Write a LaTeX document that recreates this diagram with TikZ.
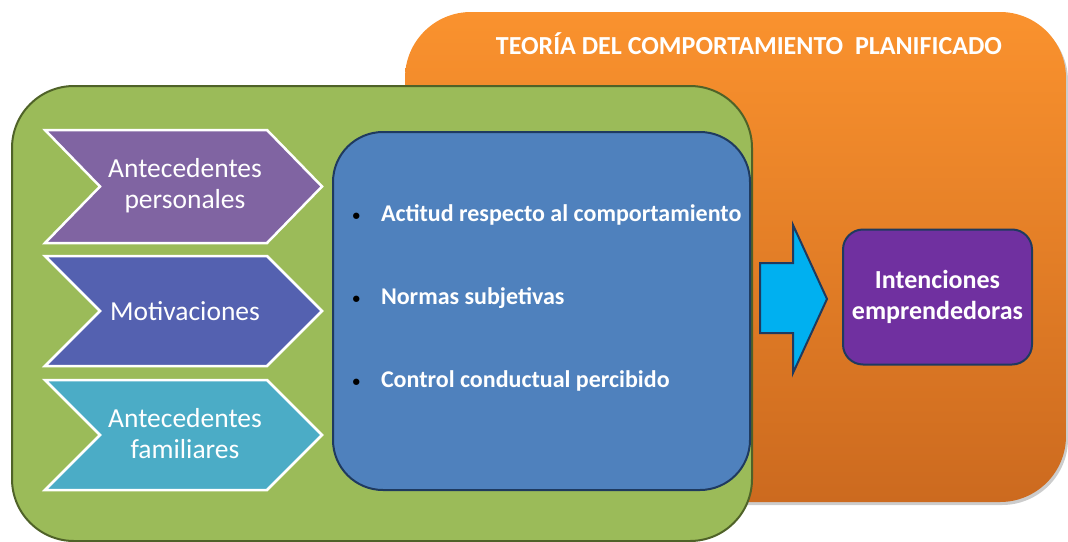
\documentclass[tikz,border=0pt]{standalone}
\usepackage{fontspec}
\setmainfont{Carlito}
\usetikzlibrary{positioning, calc}

\definecolor{orangeT}{HTML}{FA922E}
\definecolor{orangeB}{HTML}{CC6A1F}
\definecolor{greenbg}{HTML}{9BBB59}
\definecolor{greenln}{HTML}{4F6228}
\definecolor{bluebox}{HTML}{4F81BD}
\definecolor{blueln}{HTML}{1F3A5F}
\definecolor{chevA}{HTML}{8064A2}
\definecolor{chevB}{HTML}{5461B0}
\definecolor{chevC}{HTML}{4BACC6}
\definecolor{intent}{HTML}{7030A0}
\definecolor{arrowfill}{HTML}{00B0F0}

\newcommand{\itembullet}{\textcolor{black}{\fontsize{15}{15}\selectfont\raisebox{1pt}{\textbullet}}\hspace{21pt}}

\tikzset{
  chevron/.style={draw=white, line width=2.5pt, line join=miter},
  chevtext/.style={text=white, align=center, font=\fontsize{27.5}{31}\selectfont},
  itemtext/.style={text=white, anchor=west, font=\bfseries\fontsize{24}{28}\selectfont},
}

\begin{document}
\begin{tikzpicture}[x=1pt, y=-1pt]
  \useasboundingbox (0,0) rectangle (1068,541);
  % Orange frame (theory)
  \fill[gray!40, rounded corners=66pt] (407,15) rectangle (1068,505);
  \shade[top color=orangeT, bottom color=orangeB, rounded corners=66pt] (405,12) rectangle (1066,502);
  \node[text=white, font=\bfseries\fontsize{26}{30}\selectfont] (titulo) at (749,44) {TEORÍA DEL COMPORTAMIENTO \ PLANIFICADO};
  % Green frame
  \draw[fill=greenbg, draw=greenln, line width=2pt, rounded corners=62pt] (12,86) rectangle (752,541);
  % Chevrons
  \fill[chevA, chevron] (45,130) -- (267,130) -- (322,186.5) -- (267,243) -- (45,243) -- (100,186.5) -- cycle;
  \fill[chevB, chevron] (45,256) -- (267,256) -- (322,311) -- (267,366) -- (45,366) -- (100,311) -- cycle;
  \fill[chevC, chevron] (45,380) -- (267,380) -- (322,435) -- (267,490) -- (45,490) -- (100,435) -- cycle;
  \node[chevtext] (personales) at (185,186) {Antecedentes\\personales};
  \node[chevtext] (motiv) at (185,311) {Motivaciones};
  \node[chevtext] (familiares) at (185,434) {Antecedentes\\familiares};
  % Blue box with the three factors
  \node[draw=blueln, fill=bluebox, line width=2pt, rounded corners=50pt,
        minimum width=417pt, minimum height=358pt] (factores) at (541.5,311) {};
  \node[itemtext] (actitud) at (349,215) {\itembullet Actitud respecto al comportamiento};
  \node[itemtext] (normas) at (349,298) {\itembullet Normas subjetivas};
  \node[itemtext] (control) at (349,381) {\itembullet Control conductual percibido};
  % Intentions box
  \node[draw=blueln, fill=intent, line width=2pt, rounded corners=20pt,
        minimum width=189pt, minimum height=135pt, text=white, align=center,
        font=\bfseries\fontsize{26}{31}\selectfont] (intenc) at (937.5,297) {Intenciones\\emprendedoras};
  % Block arrow
  \draw[fill=arrowfill, draw=blueln, line width=2pt, line join=miter]
    (760,263) -- (793,263) -- (793,225) -- (827,299) -- (793,373) -- (793,333) -- (760,333) -- cycle;
\end{tikzpicture}
\end{document}
